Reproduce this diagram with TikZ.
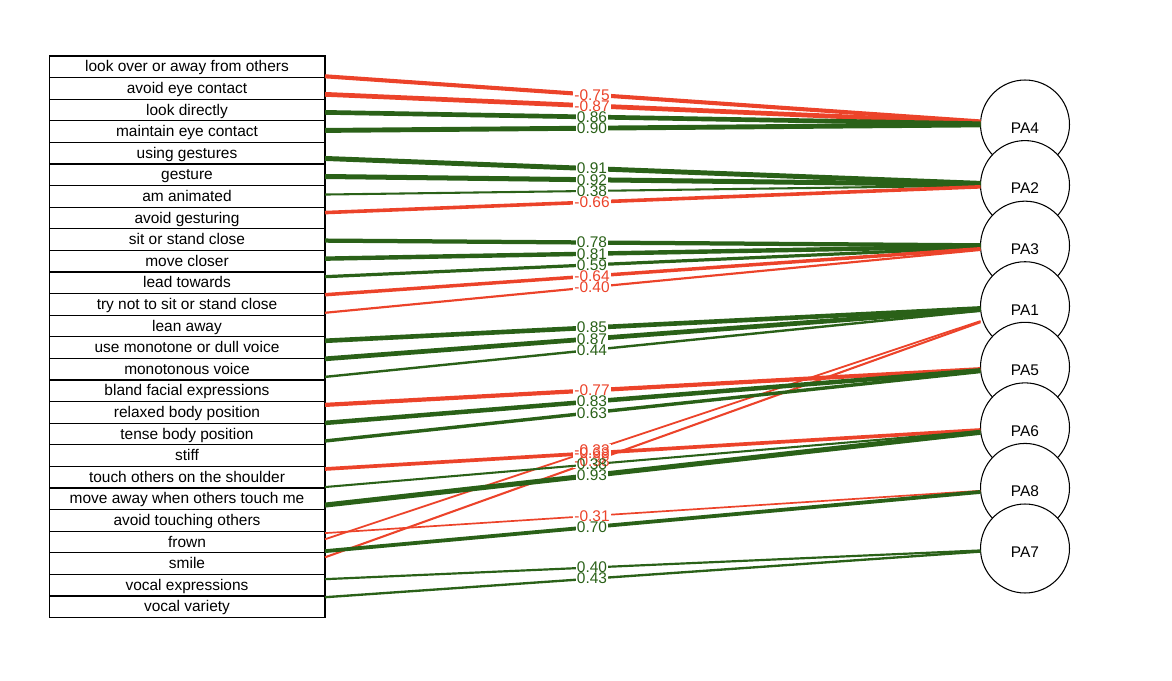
\documentclass[tikz,border=0pt]{standalone}
\usepackage{fontspec}
\setmainfont{Liberation Sans}
\usetikzlibrary{calc}

\definecolor{negred}{RGB}{236,67,42}
\definecolor{posgreen}{RGB}{42,97,24}

\tikzset{
  varbox/.style={draw, line width=0.6pt, minimum width=5.52cm, minimum height=0.432cm, inner sep=0pt,
    text height=7pt, text depth=1.3pt},
  factor/.style={draw, circle, fill=white, line width=0.6pt, minimum size=1.78cm, inner sep=0pt,
    text height=10pt, text depth=0pt},
  negload/.style={color=negred},
  posload/.style={color=posgreen},
  lblpatch/.style={fill=white, text opacity=0, inner sep=0.6pt},
  lbl/.style={inner sep=0.6pt}
}

\begin{document}
\begin{tikzpicture}[x=0.02cm, y=-0.02cm, font=\fontsize{8.8pt}{10pt}\selectfont]
\def\tstart{0.1647}
\def\tend{0.9469}
\def\tlab{0.4833}

\useasboundingbox (0,0) rectangle (1172,680);

% observed variables
\foreach \txt [count=\i] in {look over or away from others, avoid eye contact, look directly,
  maintain eye contact, using gestures, gesture, am animated, avoid gesturing,
  sit or stand close, move closer, lead towards, try not to sit or stand close,
  lean away, use monotone or dull voice, monotonous voice, bland facial expressions,
  relaxed body position, tense body position, stiff, touch others on the shoulder,
  move away when others touch me, avoid touching others, frown, smile,
  vocal expressions, vocal variety}
{
\node [varbox] (v\i) at (187,{66.8+21.6*(\i-1)}) {\txt};
}

% factors
\foreach \f [count=\k from 0] in {PA4,PA2,PA3,PA1,PA5,PA6,PA8,PA7}
{
\node [factor] (\f) at (1025,{124.5+60.57*\k}) {\f};
}

\def\loadings{1/PA4/-0.75/negload, 2/PA4/-0.87/negload, 3/PA4/0.86/posload, 4/PA4/0.90/posload,
  5/PA2/0.91/posload, 6/PA2/0.92/posload, 7/PA2/0.38/posload, 8/PA2/-0.66/negload,
  9/PA3/0.78/posload, 10/PA3/0.81/posload, 11/PA3/0.59/posload, 12/PA3/-0.64/negload, 13/PA3/-0.40/negload,
  14/PA1/0.85/posload, 15/PA1/0.87/posload, 16/PA1/0.44/posload, 25/PA1/-0.33/negload, 26/PA1/-0.38/negload,
  17/PA5/-0.77/negload, 18/PA5/0.83/posload, 19/PA5/0.63/posload,
  20/PA6/-0.68/negload, 21/PA6/0.38/posload, 22/PA6/0.93/posload,
  23/PA8/-0.31/negload, 24/PA8/0.70/posload,
  25/PA7/0.40/posload, 26/PA7/0.43/posload}

% loadings: lines with a gap for the value
\foreach \r/\f/\w/\c in \loadings
{
\draw [\c, line width={3.1pt*abs(\w)}] ($(v\r)!\tstart!(\f)$) -- ($(v\r)!\tend!(\f)$);
\node [lblpatch] (p\r\f) at ($(v\r)!\tlab!(\f)$) {\w};
}
\foreach \r/\f/\w/\c in \loadings
{
\node [lbl, \c] (l\r\f) at (p\r\f) {\w};
}

\end{tikzpicture}
\end{document}
